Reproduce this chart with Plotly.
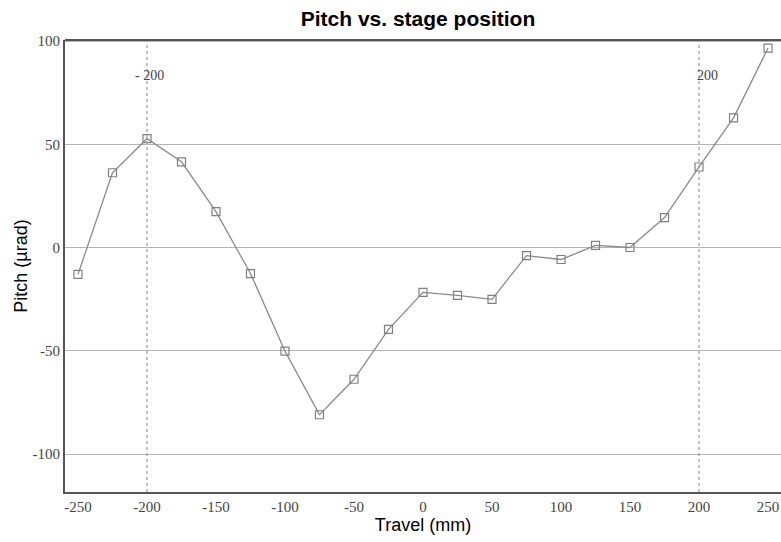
import plotly.graph_objects as go

travel = [-250, -225, -200, -175, -150, -125, -100, -75, -50, -25, 0, 25, 50, 75, 100, 125, 150, 175, 200, 225, 250]
pitch = [-13, 36.2, 52.7, 41.5, 17.4, -12.6, -50.2, -81, -63.8, -39.6, -21.7, -23.2, -25.1, -3.9, -5.8, 1, 0, 14.5, 39, 62.8, 96.6]
x_ticks = [-250, -200, -150, -100, -50, 0, 50, 100, 150, 200, 250]
x_tick_labels = ["-250", "-200", "-150", "-100", "-50", "0", "50", "100", "150", "200", "250"]
y_ticks = [-100, -50, 0, 50, 100]
y_tick_labels = ["-100", "-50", "0", "50", "100"]
marker_lines = [-200, 200]
marker_labels = ["- 200", "200"]

fig = go.Figure()
fig.add_trace(go.Scatter(
    x=travel, y=pitch, mode="lines+markers",
    line=dict(color="#8a8a8a", width=1.3),
    marker=dict(symbol="square-open", size=8, color="#808080", line=dict(width=1.2)),
    showlegend=False, cliponaxis=False,
))
for xv, lab in zip(marker_lines, marker_labels):
    fig.add_shape(type="line", x0=xv, x1=xv, y0=0, y1=1, xref="x", yref="paper",
                  line=dict(color="#999999", width=1.2, dash="dot"))
    fig.add_annotation(x=xv, y=83.5, text=lab, showarrow=False,
                       xanchor="left" if xv > 0 else "center",
                       xshift=-4 if xv > 0 else 3,
                       font=dict(family="Liberation Serif", size=14, color="#444444"))

fig.update_layout(
    width=781, height=542,
    margin=dict(l=65, r=0, t=40, b=50, autoexpand=False),
    paper_bgcolor="white", plot_bgcolor="white",
    title=dict(text="<b>Pitch vs. stage position</b>", x=418 / 781, xanchor="center",
               y=1 - 19 / 542, yanchor="middle",
               font=dict(family="Liberation Sans", size=21, color="black")),
    xaxis=dict(range=[-259.4, 259.4], tickvals=x_ticks, ticktext=x_tick_labels, showgrid=False,
               zeroline=False, showline=True, linecolor="#555555", linewidth=2, mirror=False,
               ticks="", automargin=False,
               tickfont=dict(family="Liberation Serif", size=15, color="#444444"),
               title=dict(text="Travel (mm)", font=dict(family="Liberation Sans", size=18, color="black"), standoff=0)),
    yaxis=dict(range=[-118.4, 100.5], tickvals=y_ticks, ticktext=y_tick_labels, showgrid=True,
               gridcolor="#b5b5b5", gridwidth=1, zeroline=False, showline=True, linecolor="#555555",
               linewidth=2, ticks="", automargin=False,
               tickfont=dict(family="Liberation Serif", size=15, color="#444444"),
               title=dict(text="Pitch (µrad)", font=dict(family="Liberation Sans", size=18, color="black"), standoff=0)),
)
fig.add_shape(type="line", x0=0, x1=1, y0=1, y1=1, xref="paper", yref="paper",
              line=dict(color="#555555", width=2))
fig.write_html("out.html", config={"displayModeBar": False},
               post_script="document.body.style.margin='0';document.body.style.overflow='hidden';")
